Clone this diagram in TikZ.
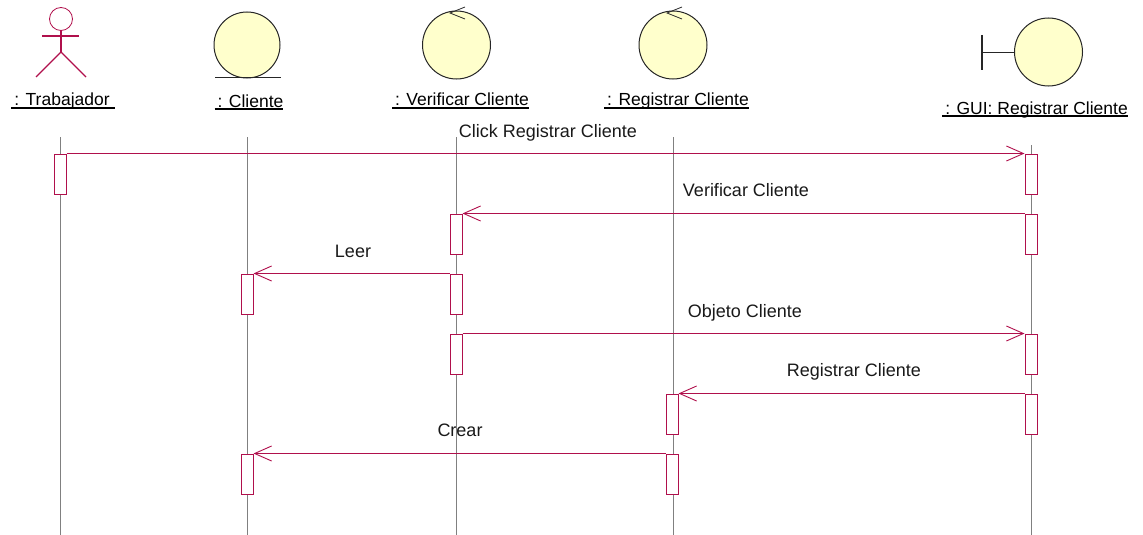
\documentclass[tikz,border=0pt]{standalone}
\usepackage{fontspec}
\setmainfont{Liberation Sans}
\usetikzlibrary{arrows.meta}
\definecolor{umlred}{HTML}{B0104C}
\definecolor{umlfill}{HTML}{FFFFCC}
\definecolor{umlgray}{HTML}{808080}
\newcommand{\objname}[1]{\setbox0\hbox{#1}\rlap{\rule[-2.6pt]{\wd0}{1.2pt}}\box0}
\begin{document}
\begin{tikzpicture}[x=1pt,y=-1pt,
  lifeline/.style={umlgray, line width=0.8pt},
  actbox/.style={draw=umlred, fill=white, line width=1pt, inner sep=0pt, minimum width=12pt, minimum height=40pt},
  msg/.style={draw=umlred, line width=1.3pt, -{Straight Barb[length=17pt,width=15pt,line width=0.9pt]}},
  icon/.style={draw=black!85, fill=umlfill, line width=1pt},
  objlabel/.style={font=\fontsize{17.5}{17.5}\selectfont, anchor=base, inner sep=0pt},
  msglabel/.style={font=\fontsize{18}{18}\selectfont, anchor=base, inner sep=0pt, text=black!90}]
  \useasboundingbox (0,0) rectangle (1143,535);

  % lifelines
  \coordinate (TrabTop) at (60,137);
  \coordinate (TrabEnd) at (60,535);
  \coordinate (CliTop) at (247,137);
  \coordinate (CliEnd) at (247,535);
  \coordinate (VerTop) at (456.5,137);
  \coordinate (VerEnd) at (456.5,535);
  \coordinate (RegTop) at (673,137);
  \coordinate (RegEnd) at (673,535);
  \coordinate (GuiTop) at (1031,145);
  \coordinate (GuiEnd) at (1031,535);
  \draw[lifeline] (TrabTop) -- (TrabEnd);
  \draw[lifeline] (CliTop) -- (CliEnd);
  \draw[lifeline] (VerTop) -- (VerEnd);
  \draw[lifeline] (RegTop) -- (RegEnd);
  \draw[lifeline] (GuiTop) -- (GuiEnd);

  % actor
  \draw[umlred, line width=0.8pt] (61,19) circle (11.5);
  \draw[umlred, line width=1.1pt] (61,30.5) -- (61,52);
  \draw[umlred, line width=1.1pt] (42,36) -- (79,36);
  \draw[umlred, line width=1.1pt] (36,77) -- (61,52) -- (86,77);

  % entity
  \draw[icon] (247,45) circle (33);
  \draw[black!85, line width=1pt] (215,78) -- (281,78);

  % controls
  \draw[icon] (456.5,45) circle (34);
  \draw[black!85, line width=0.8pt] (465,7) -- (450,13) -- (465,19);
  \draw[icon] (673,45) circle (34);
  \draw[black!85, line width=0.8pt] (682,7) -- (667,13) -- (682,19);

  % boundary
  \draw[black!85, line width=1.1pt] (982,35) -- (982,70);
  \draw[black!85, line width=1.1pt] (982,52.5) -- (1015,52.5);
  \draw[icon] (1048.5,52) circle (34);

  \node[objlabel] (TrabLabel) at (63,106) {\objname{\kern3pt: Trabajador\kern5pt}};
  \node[objlabel] (CliLabel) at (249,107) {\objname{\kern3pt: Cliente}};
  \node[objlabel] (VerLabel) at (460.5,106) {\objname{\kern3pt: Verificar Cliente}};
  \node[objlabel] (RegLabel) at (676.5,106) {\objname{\kern3pt: Registrar Cliente}};
  \node[objlabel] (GuiLabel) at (1035,114) {\objname{\kern3pt: GUI: Registrar Cliente}};

  % activations
  \node[actbox] (TrabA) at (60,174) {};
  \node[actbox] (GuiA) at (1031,174) {};
  \node[actbox] (GuiB) at (1031,234) {};
  \node[actbox] (GuiC) at (1031,354) {};
  \node[actbox] (GuiD) at (1031,414) {};
  \node[actbox] (VerA) at (456,234) {};
  \node[actbox] (VerB) at (456,294) {};
  \node[actbox] (VerC) at (456,354) {};
  \node[actbox] (CliA) at (247,294) {};
  \node[actbox] (CliB) at (247,474) {};
  \node[actbox] (RegA) at (672,414) {};
  \node[actbox] (RegB) at (672,474) {};

  % messages
  \draw[msg] (TrabA.north east) -- (GuiA.north west);
  \draw[msg] (GuiB.north west) -- (VerA.north east);
  \draw[msg] (VerB.north west) -- (CliA.north east);
  \draw[msg] (VerC.north east) -- (GuiC.north west);
  \draw[msg] (GuiD.north west) -- (RegA.north east);
  \draw[msg] (RegB.north west) -- (CliB.north east);

  \node[msglabel] (ClickText) at (548,137) {Click Registrar Cliente};
  \node[msglabel] (VerText) at (746,196) {Verificar Cliente};
  \node[msglabel] (LeerText) at (353,257) {Leer};
  \node[msglabel] (ObjText) at (745,317) {Objeto Cliente};
  \node[msglabel] (RegText) at (854,376) {Registrar Cliente};
  \node[msglabel] (CrearText) at (460,436) {Crear};
\end{tikzpicture}
\end{document}
